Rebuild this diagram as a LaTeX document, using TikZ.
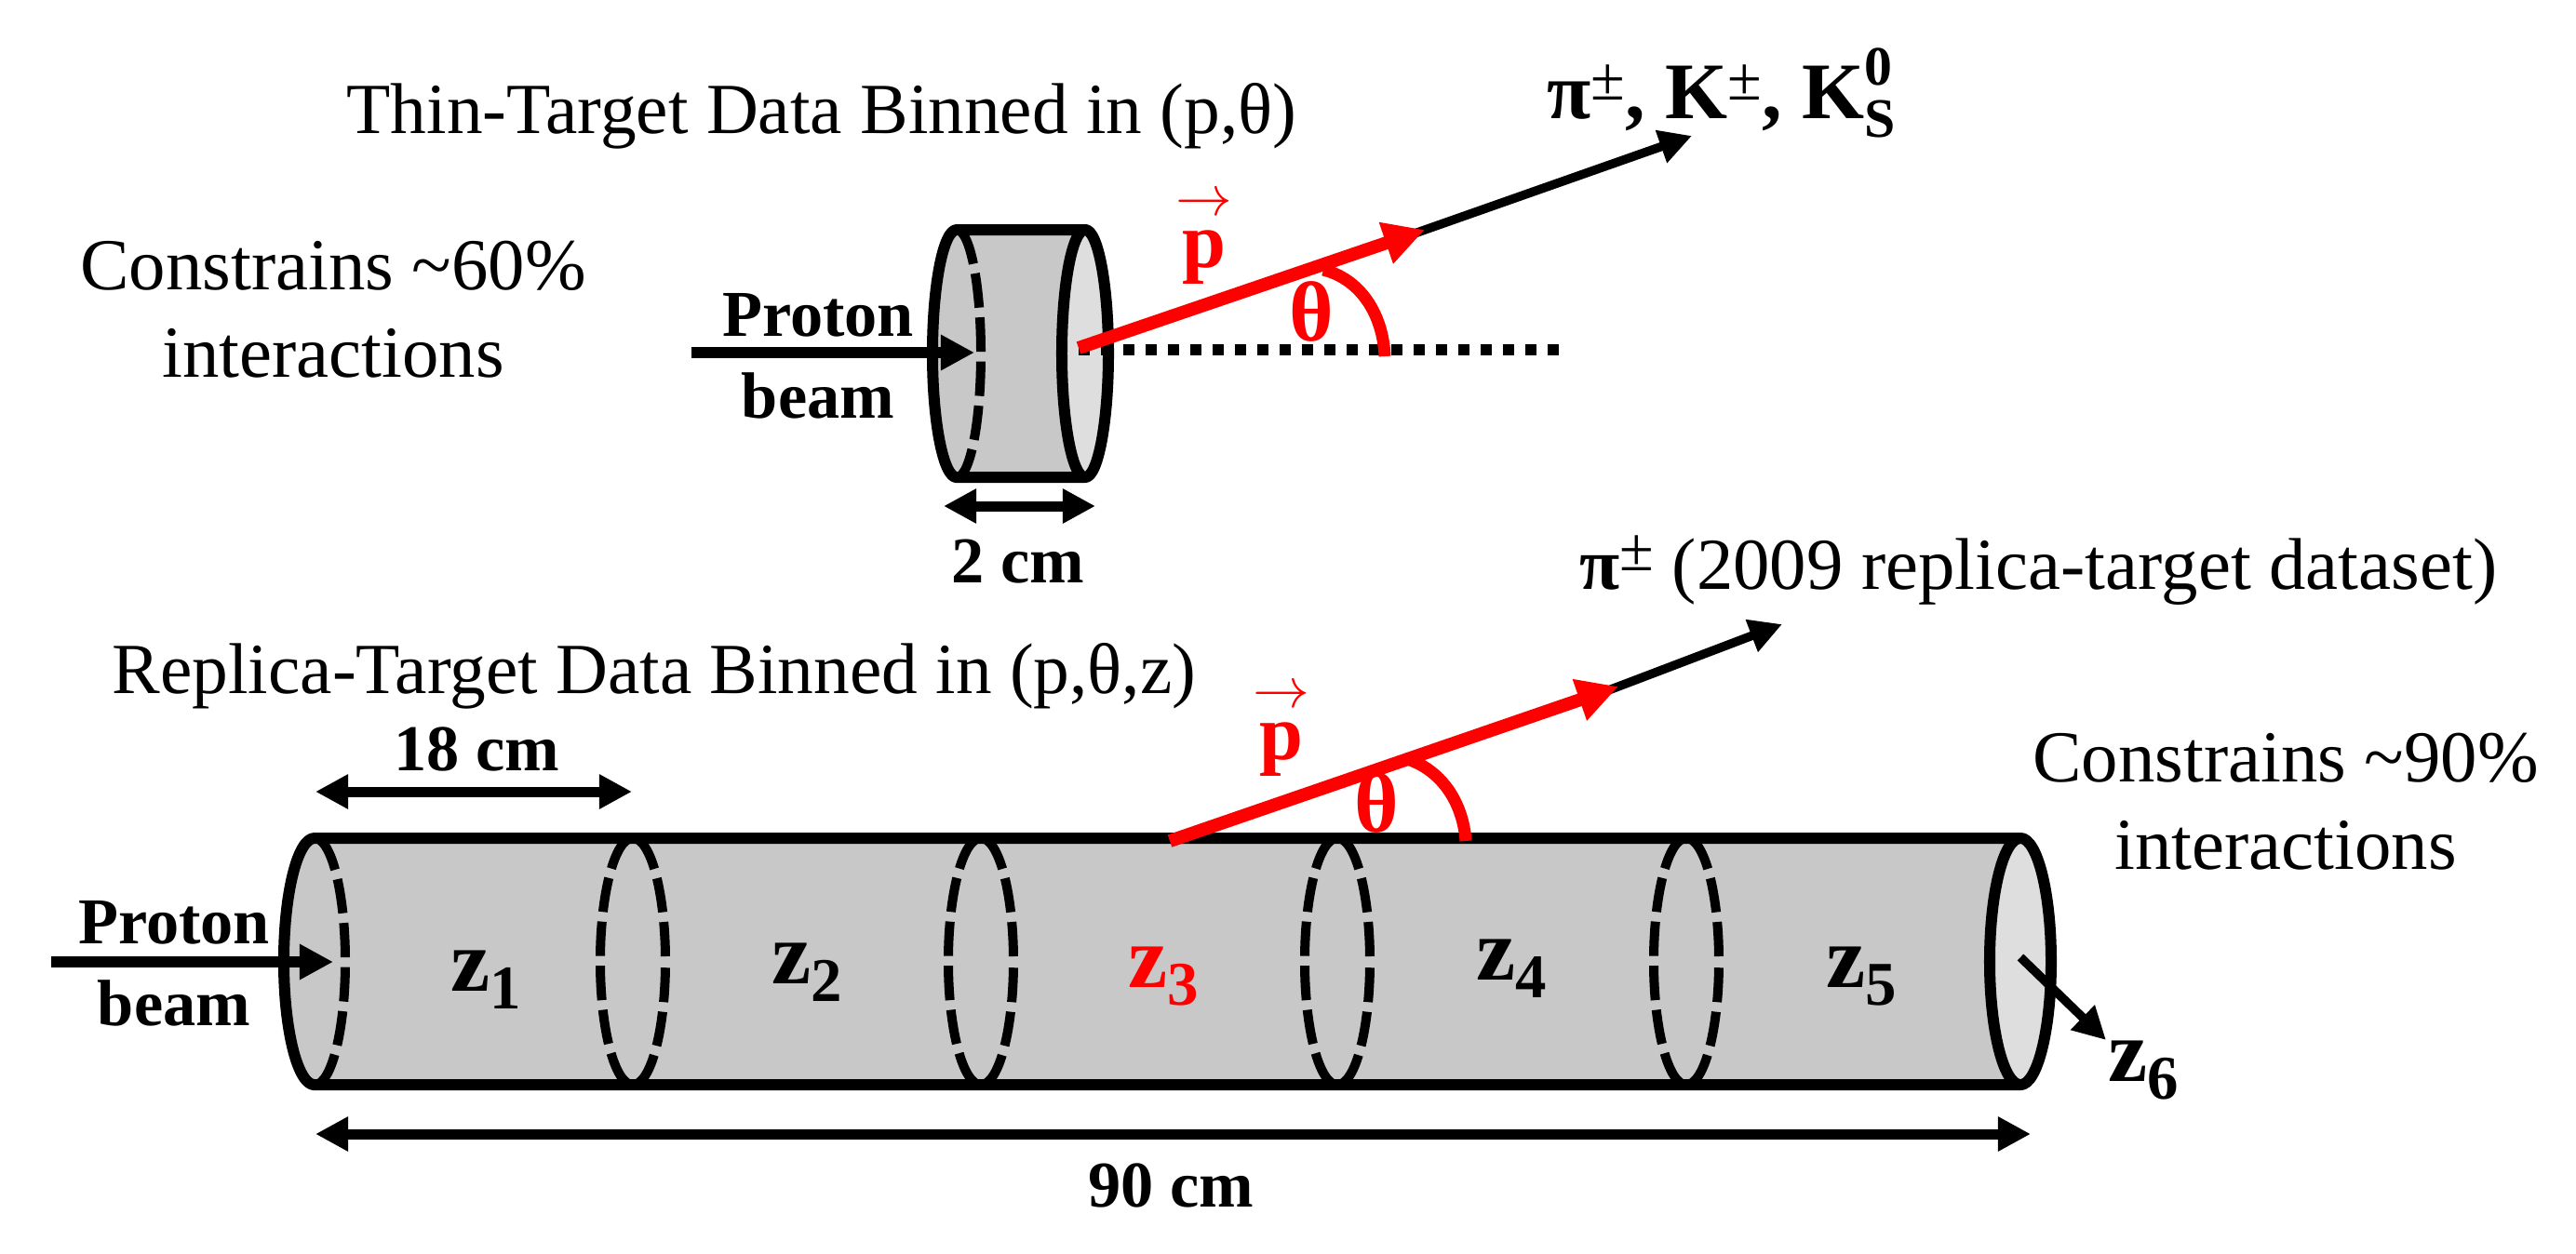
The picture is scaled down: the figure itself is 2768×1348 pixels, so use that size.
\documentclass[tikz,border=0pt]{standalone}
\usepackage{amsmath,amssymb}
\usepackage{fontspec}
\setmainfont{Liberation Serif}
\usepackage{tikz}
\usetikzlibrary{positioning,arrows.meta}
\usepackage{xcolor}
\definecolor{tubegray}{HTML}{C8C8C8}
\definecolor{facegray}{HTML}{DEDEDE}
\definecolor{beamred}{HTML}{FF0000}
\newcommand{\zbin}[1]{\textbf{z}\raisebox{-0.19cm}{\fontsize{19}{19}\selectfont\textbf{#1}}}
\newcommand{\pvec}{$\overset{\rightarrow}{\text{\textbf{p}}}$}
\newcommand{\pmsup}{\raisebox{0.2cm}{\fontsize{19}{19}\selectfont\mdseries ±}}
\tikzset{
  titletext/.style={font=\fontsize{22}{26.7}\selectfont,align=center},
  notetext/.style={font=\fontsize{22.4}{26.7}\selectfont,align=center},
  boldtext/.style={font=\fontsize{20}{25}\selectfont\bfseries,align=center},
  zlabel/.style={font=\fontsize{27}{27}\selectfont},
  redtext/.style={text=beamred,font=\fontsize{26}{26}\selectfont\bfseries},
  momtext/.style={text=beamred,font=\fontsize{24}{24}\selectfont\bfseries},
  wall/.style={line width=0.12cm,line join=round},
  slice/.style={line width=0.1cm,dash pattern=on 0.37cm off 0.105cm,dash phase=0.42cm},
  blackarrow/.style={line width=0.095cm,-{Triangle[length=0.35cm,width=0.35cm]}},
  beamarrow/.style={line width=0.115cm,-{Triangle[length=0.36cm,width=0.36cm]}},
  sizearrow/.style={line width=0.11cm,{Triangle[length=0.35cm,width=0.35cm]}-{Triangle[length=0.35cm,width=0.35cm]}},
  redarrow/.style={line width=0.14cm,draw=beamred,-{Triangle[length=0.44cm,width=0.44cm]}},
  redarc/.style={line width=0.13cm,draw=beamred}
}
\begin{document}
\begin{tikzpicture}[x=0.01cm,y=-0.01cm]
\useasboundingbox (0,0) rectangle (2768,1348);
% thin target
\coordinate (thinBack) at (1028,247);
\coordinate (thinFront) at (1166,247);
\fill[tubegray] (1028,247) arc[x radius=0.26cm,y radius=1.33cm,start angle=90,end angle=270] -- (1166,513) -- (1166,247) -- cycle;
\draw[wall,fill=facegray] (1166,380) ellipse[x radius=0.25cm,y radius=1.33cm];
\draw[wall] (thinFront) -- (thinBack) arc[x radius=0.26cm,y radius=1.33cm,start angle=90,end angle=270] -- (1166,513);
\draw[slice] (thinBack) arc[x radius=0.26cm,y radius=1.33cm,start angle=90,end angle=-90];
\coordinate (thinIn) at (743,379);
\coordinate (thinTip) at (1047,379);
\draw[beamarrow] (thinIn) -- (thinTip);
\coordinate (thinA) at (1014,544);
\coordinate (thinB) at (1177,544);
\draw[sizearrow] (thinA) -- (thinB);
\coordinate (thinVertex) at (1159,376);
\coordinate (thinLevel) at (1682,376);
\draw[line width=0.115cm,dash pattern=on 0.12cm off 0.12cm] (thinVertex) -- (thinLevel);
\coordinate (thinOut) at (1818,146);
\coordinate (thinMom) at (1531,247);
\draw[blackarrow] (1500,258) -- (thinOut);
\draw[redarrow] (1159,374) -- (thinMom);
\draw[redarc] (1488,383) .. controls (1486,338) and (1462,300) .. (1422,290);
% replica target
\coordinate (longBack) at (338,901);
\coordinate (longFront) at (2171,901);
\fill[tubegray] (338,901) arc[x radius=0.33cm,y radius=1.325cm,start angle=90,end angle=270] -- (2171,1166) -- (2171,901) -- cycle;
\foreach \xpos in {680,1054,1437,1812} {
  \draw[slice] (\xpos,1033.5) ellipse[x radius=0.35cm,y radius=1.325cm];
}
\draw[wall,fill=facegray] (2171,1033.5) ellipse[x radius=0.33cm,y radius=1.325cm];
\draw[wall] (longFront) -- (longBack) arc[x radius=0.33cm,y radius=1.325cm,start angle=90,end angle=270] -- (2171,1166);
\draw[slice] (longBack) arc[x radius=0.33cm,y radius=1.325cm,start angle=90,end angle=-90];
\coordinate (longIn) at (55,1034);
\coordinate (longTip) at (358,1034);
\draw[beamarrow] (longIn) -- (longTip);
\coordinate (binA) at (339,851);
\coordinate (binB) at (679,851);
\draw[sizearrow] (binA) -- (binB);
\coordinate (lenA) at (339,1219);
\coordinate (lenB) at (2182,1219);
\draw[sizearrow] (lenA) -- (lenB);
\coordinate (exitA) at (2171,1029);
\coordinate (exitB) at (2263,1118);
\draw[blackarrow] (exitA) -- (exitB);
\coordinate (longOut) at (1915,671);
\coordinate (longMom) at (1739,738);
\draw[blackarrow] (1710,749) -- (longOut);
\draw[redarrow] (1257,904) -- (longMom);
\draw[redarc] (1575,904) .. controls (1572,862) and (1548,826) .. (1509,815);
% labels
\node[titletext] (thinTitle) at (883,125) {Thin-Target Data Binned in (p,θ)};
\node[titletext] (longTitle) at (703,727) {Replica-Target Data Binned in (p,θ,z)};
\node[notetext] (thinNote) at (358,333) {Constrains \textasciitilde 60\%\\interactions};
\node[notetext] (longNote) at (2456,862) {Constrains \textasciitilde 90\%\\interactions};
\node[boldtext] (thinBeam) at (879,383) {Proton\\beam};
\node[boldtext] (longBeam) at (187,1036) {Proton\\beam};
\node[boldtext] (thinSize) at (1094,604) {2 cm};
\node[boldtext] (binSize) at (512,805) {18 cm};
\node[boldtext] (lenSize) at (1258,1274) {90 cm};
\node[notetext,anchor=west] (longOutput) at (1685,613) {\textbf{π}\pmsup{} (2009 replica-target dataset)};
\node[font=\fontsize{24.5}{25}\selectfont\bfseries,anchor=west] (thinOutput) at (1650,100) {π\pmsup, K\pmsup, K\rlap{\raisebox{0.36cm}{\fontsize{17}{17}\selectfont 0}}\raisebox{-0.2cm}{\fontsize{17}{17}\selectfont S}};
\node[momtext] (thinP) at (1294,253) {\pvec};
\node[momtext] (longP) at (1377,782) {\pvec};
\node[redtext] (thinTheta) at (1409,335) {θ};
\node[redtext] (longTheta) at (1479,863) {θ};
\node[zlabel] (zOne) at (522,1053) {\zbin{1}};
\node[zlabel] (zTwo) at (867,1045) {\zbin{2}};
\node[zlabel,text=beamred] (zThree) at (1250,1050) {\zbin{3}};
\node[zlabel] (zFour) at (1624,1041) {\zbin{4}};
\node[zlabel] (zFive) at (2000,1050) {\zbin{5}};
\node[zlabel] (zSix) at (2303,1151) {\zbin{6}};
\end{tikzpicture}
\end{document}
